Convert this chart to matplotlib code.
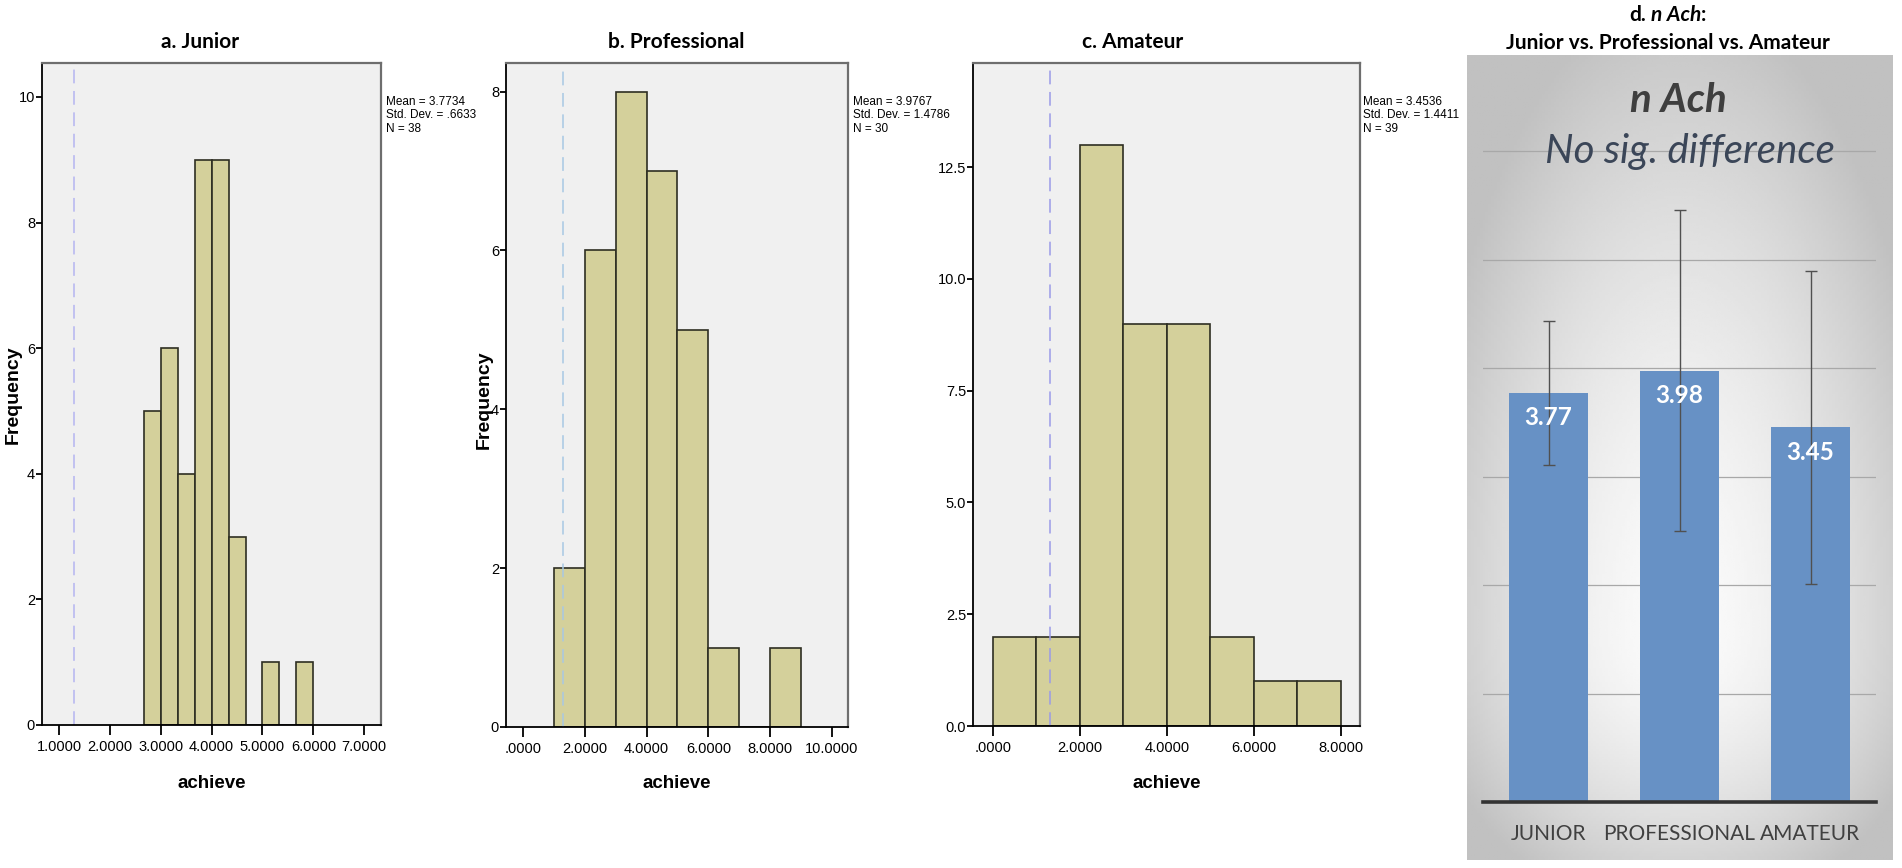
import numpy as np
import matplotlib.pyplot as plt

junior_edges = [2.6667, 3.0, 3.3333, 3.6667, 4.0, 4.3333, 4.6667, 5.0, 5.3333, 5.6667, 6.0]
junior_counts = [5, 6, 4, 9, 9, 3, 0, 1, 0, 1]
pro_edges = [1, 2, 3, 4, 5, 6, 7, 8, 9]
pro_counts = [2, 6, 8, 7, 5, 1, 0, 1]
amateur_edges = [0, 1, 2, 3, 4, 5, 6, 7, 8]
amateur_counts = [2, 2, 13, 9, 9, 2, 1, 1]

group_names = ['JUNIOR', 'PROFESSIONAL', 'AMATEUR']
group_means = [3.7734, 3.9767, 3.4536]
group_sds = [0.6633, 1.4786, 1.4411]
group_ns = [38, 30, 39]

hist_titles = ['a. Junior', 'b. Professional', 'c. Amateur']
hist_xticks = [[1, 2, 3, 4, 5, 6, 7], [0, 2, 4, 6, 8, 10], [0, 2, 4, 6, 8]]
hist_yticks = [[0, 2, 4, 6, 8, 10], [0, 2, 4, 6, 8], [0, 2.5, 5, 7.5, 10, 12.5]]
ref_line = 1.3

W, H = 1902, 868
fig = plt.figure(figsize=(W / 100, H / 100), dpi=100)
narrow = ['Liberation Sans Narrow', 'Liberation Sans', 'DejaVu Sans']
arial = ['Liberation Sans', 'DejaVu Sans']
calib = ['Lato', 'DejaVu Sans']


def box(l, t, r, b):
    return [l / W, 1 - b / H, (r - l) / W, (b - t) / H]


def spss(v):
    s = f"{v:.4f}"
    return s[1:] if s.startswith('0') else s


def ftext(x, y, s, **kw):
    return fig.text(x / W, 1 - y / H, s, **kw)


frames = [(42, 63, 381, 725), (506, 63, 848, 727), (973, 63, 1360, 726)]
xlims = [(0.665, 7.33), (-0.55, 10.52), (-0.46, 8.44)]
ytops = [10.54, 8.36, 14.83]
line_cols = ['#b4b4f0', '#a8c8e4', '#9a9ae8']
title_x = [200, 676, 1133]
stat_x = [386, 853, 1363]
data = [(junior_edges, junior_counts), (pro_edges, pro_counts), (amateur_edges, amateur_counts)]

for i, (edges, counts) in enumerate(data):
    l, t, r, b = frames[i]
    ax = fig.add_axes(box(l, t, r, b))
    ax.set_facecolor('#f0f0f0')
    ax.hist(edges[:-1], bins=edges, weights=counts, color='#d4d09b',
            edgecolor='#2e2e22', linewidth=1.2)
    ax.axvline(ref_line, color=line_cols[i], ls=(0, (9, 5)), lw=1.1)
    ax.set_xlim(*xlims[i])
    ax.set_ylim(0, ytops[i])
    ax.set_xticks(hist_xticks[i])
    ax.set_xticklabels([spss(v) for v in hist_xticks[i]], family=narrow, fontsize=10.5)
    ax.set_yticks(hist_yticks[i])
    if i == 2:
        ax.set_yticklabels([f"{v:.1f}" for v in hist_yticks[i]], family=narrow, fontsize=10.5)
    else:
        ax.set_yticklabels([str(v) for v in hist_yticks[i]], family=narrow, fontsize=10.5)
    ax.tick_params(axis='x', length=7, width=1.3, pad=4)
    ax.tick_params(axis='y', length=4, width=1.3, pad=1)
    for s in ['left', 'bottom']:
        ax.spines[s].set_color('black')
        ax.spines[s].set_linewidth(1.3)
    for s in ['top', 'right']:
        ax.spines[s].set_color('#6e6e6e')
        ax.spines[s].set_linewidth(1.6)

    ftext(title_x[i], 42, hist_titles[i], fontsize=15, fontweight='bold',
          family=calib, ha='center', va='center')
    ftext((l + r) / 2, 783, 'achieve', fontsize=13.5, fontweight='bold',
          family=narrow, ha='center', va='center')
    ftext(stat_x[i], 96, f"Mean = {spss(group_means[i])}\nStd. Dev. = {spss(group_sds[i])}\nN = {group_ns[i]}",
          fontsize=8.5, family=narrow, ha='left', va='top', linespacing=1.15)

ftext(13, 395, 'Frequency', rotation=90, fontsize=14, fontweight='bold',
      family=arial, ha='center', va='center')
ftext(484, 400, 'Frequency', rotation=90, fontsize=14, fontweight='bold',
      family=arial, ha='center', va='center')

# panel d: gradient backdrop
bg = fig.add_axes(box(1467, 55, 1893, 860))
yy, xx = np.mgrid[0:1:300j, 0:1:150j]
dy = np.where(yy < 0.72, (yy - 0.72) / 0.8, (yy - 0.72) / 0.36)
rr = np.clip(np.sqrt(((xx - 0.5) / 0.62) ** 2 + dy ** 2), 0, 1.0)
shade = 0.985 - 0.23 * rr ** 1.6
bg.imshow(shade, cmap='gray', vmin=0, vmax=1, aspect='auto', extent=(0, 1, 1, 0))
bg.axis('off')

axd = fig.add_axes(box(1483, 55, 1876, 802))
axd.patch.set_alpha(0)
xpos = np.arange(len(group_names))
axd.bar(xpos, group_means, width=0.6, color='#6791c5', zorder=2)
axd.errorbar(xpos, group_means, yerr=group_sds, fmt='none', ecolor='#505050',
             elinewidth=1, capsize=4, capthick=1, zorder=3)
axd.set_xlim(-0.5, 2.5)
axd.set_ylim(0, (802 - 55) / 108.5)
axd.set_yticks([1, 2, 3, 4, 5, 6])
axd.set_yticklabels([])
axd.yaxis.grid(True, color='#a8a8a8', lw=0.9, zorder=1)
axd.set_axisbelow(True)
axd.axhline(0, color='#333333', lw=2.6, zorder=4, clip_on=False)
axd.tick_params(length=0)
axd.set_xticks(xpos)
axd.set_xticklabels(group_names, fontsize=15, color='#404040', family=calib)
axd.tick_params(axis='x', pad=16)
for s in axd.spines.values():
    s.set_visible(False)
for xi, m in zip(xpos, group_means):
    axd.annotate(f"{m:.2f}", (xi, m), xytext=(0, -18), textcoords='offset points',
                 ha='center', va='center', color='white', fontweight='bold',
                 fontsize=17.5, family=calib, zorder=5)

ftext(1678, 100, 'n Ach', fontsize=29, fontweight='bold', style='italic',
      color='#3f3f3f', family=calib, ha='center', va='center')
ftext(1690, 152, 'No sig. difference', fontsize=29, style='italic',
      color='#3b4658', family=calib, ha='center', va='center')

# panel d title, first line mixes upright and italic
rend = fig.canvas.get_renderer()
parts = [('d.', 'normal', 5), ('n Ach', 'italic', 0), (':', 'normal', 0)]
pieces = [ftext(0, 15, s, fontsize=15, fontweight='bold', style=st, family=calib,
                ha='left', va='center') for s, st, g in parts]
widths = [p.get_window_extent(rend).width + g for p, (s, st, g) in zip(pieces, parts)]
x0 = 1668 - sum(widths) / 2
for p, w in zip(pieces, widths):
    p.set_x(x0 / W)
    x0 += w
ftext(1668, 43, 'Junior vs. Professional vs. Amateur', fontsize=15, fontweight='bold',
      family=calib, ha='center', va='center')

fig.savefig('out.png', dpi=100)
